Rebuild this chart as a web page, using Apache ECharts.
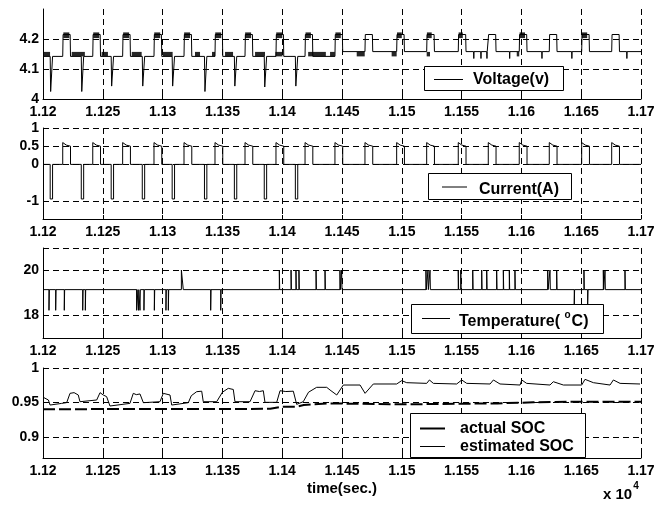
<!DOCTYPE html>
<html><head><meta charset="utf-8">
<script src="https://cdn.jsdelivr.net/npm/echarts@6/dist/echarts.min.js"></script>
<style>html,body{margin:0;padding:0;background:#fff}#c{width:658px;height:507px}</style>
</head><body><div id="c"></div>
<script>
// ---------- axes ----------
const X_MIN = 11200, X_MAX = 11700, X_STEP = 50;
const yRange1 = [4, 4.3],   yTicks1 = [4, 4.1, 4.2],        yGrid1 = [4.1, 4.2];
const yRange2 = [-1.5, 1],  yTicks2 = [-1, 0, 0.5, 1],      yGrid2 = [-1, 0, 0.5, 1];
const yRange3 = [17, 21],   yTicks3 = [18, 20],             yGrid3 = [18, 20, 21];
const yRange4 = [0.87, 1],  yTicks4 = [0.9, 0.95, 1],       yGrid4 = [0.9, 0.95, 1];

// ---------- voltage / current events (seconds) ----------
const dipTimes = [11206, 11232, 11257, 11283, 11308, 11335, 11360, 11385, 11411];
const voltDipValues = [4.025, 4.025, 4.043, 4.043, 4.043, 4.025, 4.043, 4.04, 4.043];
const currentDipValue = -0.95;
const pulseTimes = [11216.5, 11241.6, 11266.6, 11292.8, 11317.9, 11343.8, 11368.9, 11394.8, 11419.1,
  11444.1, 11469.2, 11495.7, 11520.8, 11547.2, 11572.3, 11598.2, 11623.3, 11650.4, 11675.5];
const currentPulseProfile = [[0, 0.6], [1.5, 0.56], [3, 0.53], [6.5, 0.5]];
const voltBaseline = [[11200, 4.142], [11450, 4.158]];
const voltPulseTop = 4.215;
const voltSmallTicks = [11560, 11566, 11571, 11590, 11617, 11642, 11688];
const voltTickValue = 4.135;
const voltNoiseHighBand = [4.203, 4.222];
const voltNoiseHigh = [[11217, 11222], [11242, 11247], [11267, 11272], [11293, 11298], [11318, 11323],
  [11344, 11349], [11369, 11374], [11395, 11400], [11419.5, 11424], [11444.5, 11449],
  [11496, 11500], [11521, 11525], [11547.5, 11551], [11598.5, 11603], [11650.5, 11655]];
const voltNoiseLowBand = [4.142, 4.157];
const voltNoiseLow = [[11200, 11205.9], [11224, 11235], [11249, 11254.3], [11274.2, 11282.5],
  [11300.3, 11308.4], [11327.1, 11331.3], [11341.3, 11343.8], [11352.2, 11358.9], [11377.3, 11385.6],
  [11394.3, 11400.2], [11421.7, 11436.5], [11440, 11444], [11462.3, 11469], [11491.5, 11495.7],
  [11520.8, 11523.6], [11596.1, 11598.2]];

// ---------- temperature ----------
const tempBase = 19.15;
const tempSpikes = [ // [time, value, duration]
  [11205.0, 18.23, 0.3], [11210.6, 18.23, 0.3], [11217.8, 18.23, 0.3], [11233.2, 18.23, 0.3], [11235.4, 18.23, 0.3],
  [11278.3, 18.23, 0.3], [11279.8, 18.23, 0.3], [11281.1, 18.23, 0.3], [11284.4, 18.23, 0.3], [11293.1, 18.23, 0.3],
  [11302.8, 18.23, 0.3], [11304.8, 18.23, 0.3], [11315.7, 20.02, 1.6], [11340.2, 18.23, 0.3], [11348.6, 18.23, 0.3],
  [11397.6, 20.02, 0.3], [11407.4, 20.02, 0.3], [11411.5, 20.02, 0.3], [11414.0, 20.02, 0.3], [11428.3, 20.02, 0.3],
  [11435.8, 20.02, 0.3], [11448.3, 20.02, 0.3], [11449.7, 20.02, 0.3], [11520.2, 20.02, 0.3], [11521.9, 20.02, 0.3],
  [11523.6, 20.02, 0.3], [11547.2, 20.02, 0.3], [11549.3, 20.02, 0.3], [11559.3, 20.02, 0.3], [11566.8, 20.02, 0.3],
  [11571.0, 20.02, 0.3], [11579.3, 20.02, 0.3], [11584.9, 20.02, 0.3], [11589.9, 20.02, 0.3], [11594.6, 20.02, 0.3],
  [11622.0, 20.02, 0.3], [11623.9, 20.02, 0.3], [11629.5, 20.02, 0.3], [11644.2, 18.5, 0.3], [11652.3, 20.02, 0.3],
  [11655.4, 18.5, 0.3], [11668.5, 20.02, 0.3], [11669.9, 20.02, 0.3], [11686.6, 20.02, 0.3]];

// ---------- SOC ----------
const actualSOC = [[11200, 0.9405], [11390, 0.9410], [11400, 0.9441], [11412, 0.9441], [11418, 0.9465],
  [11440, 0.9489], [11455, 0.9485], [11500, 0.9475], [11530, 0.9480], [11580, 0.9489], [11610, 0.9504],
  [11640, 0.9513], [11700, 0.9513]];
const estimatedSOC = [[11200.3, 0.9576], [11204.5, 0.9538], [11205.9, 0.9465], [11215.6, 0.9489], [11219.8, 0.9500],
  [11222.6, 0.9634], [11224, 0.9620], [11226, 0.9644], [11229.5, 0.9610], [11230.9, 0.9513], [11244.9, 0.9538],
  [11247.7, 0.9644], [11250.4, 0.9610], [11253.2, 0.9586], [11256.0, 0.9451], [11272.7, 0.9489], [11275.5, 0.9634],
  [11278, 0.9615], [11281.1, 0.9625], [11283.9, 0.9499], [11297.8, 0.9513], [11300.6, 0.9634], [11306.2, 0.9610],
  [11307.6, 0.9465], [11321.5, 0.9499], [11324, 0.9600], [11328.5, 0.9658], [11330, 0.9630], [11332.7, 0.9665],
  [11334.0, 0.9513], [11345.2, 0.9513], [11350, 0.9650], [11354.9, 0.9706], [11359.1, 0.9690], [11360.5, 0.9513],
  [11373.1, 0.9513], [11377.3, 0.9672], [11381, 0.9660], [11384.2, 0.9672], [11385.6, 0.9504], [11395.4, 0.9504],
  [11398.2, 0.9672], [11403, 0.9660], [11409.3, 0.9665], [11412.1, 0.9475], [11417.6, 0.9513], [11422, 0.9650],
  [11428.8, 0.9721], [11437.2, 0.9721], [11440.0, 0.9682], [11445.6, 0.9610], [11451.1, 0.9754], [11465.1, 0.9754],
  [11469.3, 0.9634], [11476.2, 0.9769], [11495.7, 0.9769], [11499.9, 0.9817], [11504.1, 0.9788], [11520.8, 0.9778],
  [11523.1, 0.9827], [11526.4, 0.9778], [11545.9, 0.9769], [11550.1, 0.9827], [11554.3, 0.9778], [11573.8, 0.9769],
  [11576.6, 0.9827], [11582.1, 0.9769], [11598.9, 0.9754], [11600.3, 0.9827], [11604.4, 0.9778], [11623.9, 0.9754],
  [11626.7, 0.9802], [11635.1, 0.9754], [11650.4, 0.9754], [11653.2, 0.9836], [11660.2, 0.9788], [11674.1, 0.9754],
  [11676.9, 0.9827], [11682.5, 0.9778], [11699.2, 0.9769]];

// ---------- build series ----------
function baseAt(t) { let v = voltBaseline[0][1]; for (const [bt, bv] of voltBaseline) if (t >= bt) v = bv; return v; }
const voltEvents = [];
dipTimes.forEach((t, i) => voltEvents.push({ t, kind: 'dip', v: voltDipValues[i] }));
pulseTimes.forEach(t => voltEvents.push({ t, kind: 'pulse' }));
voltSmallTicks.forEach(t => voltEvents.push({ t, kind: 'tick' }));
voltEvents.sort((a, b) => a.t - b.t);
const voltData = [[X_MIN, baseAt(X_MIN)]];
voltEvents.forEach(e => {
  const b = baseAt(e.t);
  if (e.kind === 'dip') voltData.push([e.t, b], [e.t + 0.4, e.v], [e.t + 1.6, e.v], [e.t + 2, baseAt(e.t + 2)]);
  else if (e.kind === 'pulse') voltData.push([e.t, b], [e.t + 0.3, voltPulseTop], [e.t + 6.2, voltPulseTop], [e.t + 6.5, baseAt(e.t + 6.5)]);
  else voltData.push([e.t, b], [e.t + 0.2, voltTickValue], [e.t + 0.4, b]);
});
voltData.push([X_MAX, baseAt(X_MAX)]);

const curEvents = [];
dipTimes.forEach(t => curEvents.push({ t, kind: 'dip' }));
pulseTimes.forEach(t => curEvents.push({ t, kind: 'pulse' }));
curEvents.sort((a, b) => a.t - b.t);
const curData = [[X_MIN, 0]];
curEvents.forEach(e => {
  if (e.kind === 'dip') curData.push([e.t, 0], [e.t, currentDipValue], [e.t + 2, currentDipValue], [e.t + 2, 0]);
  else {
    curData.push([e.t, 0]);
    currentPulseProfile.forEach(([dt, v]) => curData.push([e.t + dt, v]));
    curData.push([e.t + currentPulseProfile[currentPulseProfile.length - 1][0], 0]);
  }
});
curData.push([X_MAX, 0]);

const tempData = [[X_MIN, tempBase]];
tempSpikes.forEach(([t, v, w]) => tempData.push([t, tempBase], [t, v], [t + w, v], [t + w, tempBase]));
tempData.push([X_MAX, tempBase]);

// ---------- chart ----------
const FONT = '"Liberation Sans", Arial, sans-serif';
const tops = [9, 128, 248, 368], heights = [90, 91, 90, 90];
const yRanges = [yRange1, yRange2, yRange3, yRange4];
const yTicks = [yTicks1, yTicks2, yTicks3, yTicks4];
const yGrids = [yGrid1, yGrid2, yGrid3, yGrid4];
const dash = [6, 4];

const grids = tops.map((t, i) => ({ left: 43, right: 17, top: t, height: heights[i] }));
const xAxes = tops.map((t, i) => ({
  type: 'value', gridIndex: i, min: X_MIN, max: X_MAX, interval: X_STEP,
  axisLine: { onZero: false, lineStyle: { color: '#000', width: 1 } },
  axisTick: { inside: true, length: 4, lineStyle: { color: '#000' } },
  axisLabel: { color: '#000', fontSize: 14, fontWeight: 'bold', fontFamily: FONT, margin: 6,
    formatter: v => String(parseFloat((v / 10000).toFixed(4))) },
  splitLine: { show: true, lineStyle: { color: '#000', type: dash, width: 1 } },
  name: i === 3 ? 'time(sec.)' : '', nameLocation: 'middle', nameGap: 23,
  nameTextStyle: { color: '#000', fontSize: 15, fontWeight: 'bold', fontFamily: FONT }
}));
const yAxes = tops.map((t, i) => ({
  type: 'value', gridIndex: i, min: yRanges[i][0], max: yRanges[i][1],
  axisLine: { show: true, onZero: false, lineStyle: { color: '#000', width: 1 } },
  axisTick: { show: true, inside: true, length: 4, customValues: yTicks[i], lineStyle: { color: '#000' } },
  axisLabel: { color: '#000', fontSize: 14, fontWeight: 'bold', fontFamily: FONT, margin: 4, customValues: yTicks[i] },
  splitLine: { show: false }
}));

function gridMarkLine(vals) {
  return { silent: true, symbol: 'none', animation: false, label: { show: false },
    lineStyle: { color: '#000', type: dash, width: 1 }, emphasis: { disabled: true },
    data: vals.map(v => ({ yAxis: v })) };
}
function bands(list, band) {
  return list.map(([a, b]) => [{ xAxis: a, yAxis: band[0] }, { xAxis: b, yAxis: band[1] }]);
}
const lineBase = { type: 'line', showSymbol: false, symbol: 'none', animation: false, silent: true };

const series = [
  Object.assign({}, lineBase, { name: 'Voltage(v)', xAxisIndex: 0, yAxisIndex: 0, data: voltData,
    lineStyle: { color: '#000', width: 1 }, markLine: gridMarkLine(yGrid1),
    markArea: { silent: true, itemStyle: { color: 'rgba(0,0,0,0.85)' }, data: bands(voltNoiseHigh, voltNoiseHighBand).concat(bands(voltNoiseLow, voltNoiseLowBand)) } }),
  Object.assign({}, lineBase, { name: 'Current(A)', xAxisIndex: 1, yAxisIndex: 1, data: curData,
    lineStyle: { color: '#000', width: 1 }, markLine: gridMarkLine(yGrid2) }),
  Object.assign({}, lineBase, { name: 'Temperature', xAxisIndex: 2, yAxisIndex: 2, data: tempData,
    lineStyle: { color: '#000', width: 1 }, markLine: gridMarkLine(yGrid3) }),
  Object.assign({}, lineBase, { name: 'actual SOC', xAxisIndex: 3, yAxisIndex: 3, data: actualSOC,
    lineStyle: { color: '#000', width: 2, type: [12, 4] }, markLine: gridMarkLine(yGrid4) }),
  Object.assign({}, lineBase, { name: 'estimated SOC', xAxisIndex: 3, yAxisIndex: 3, data: estimatedSOC,
    lineStyle: { color: '#000', width: 1 } })
];

// ---------- legend boxes & annotations ----------
const mctx = document.createElement('canvas').getContext('2d');
function textW(s, size) { mctx.font = 'bold ' + size + 'px ' + FONT; return mctx.measureText(s).width; }
const txt = (text, x, y, size) => ({ type: 'text', x, y, silent: true,
  style: { text, fill: '#000', fontSize: size, fontWeight: 'bold', fontFamily: FONT, verticalAlign: 'middle', align: 'left' } });
const box = (x, y, w, h) => ({ type: 'rect', silent: true, shape: { x, y, width: w, height: h },
  style: { fill: '#fff', stroke: '#000', lineWidth: 1 } });
const seg = (x1, x2, y, w) => ({ type: 'line', silent: true, shape: { x1, y1: y, x2, y2: y },
  style: { stroke: '#000', lineWidth: w } });
const tX = 459, tPre = 'Temperature( ';
const oX = tX + textW(tPre, 16);
const cX = oX + textW('o', 10) + 1;
const graphics = [
  box(424.5, 66.5, 139, 24), seg(434, 463, 79.5, 1), txt('Voltage(v)', 473, 79.5, 16),
  box(428.5, 173.5, 143, 26), seg(442, 467, 187, 1), txt('Current(A)', 479, 190, 16),
  box(411.5, 304.5, 192, 29), seg(422, 450, 318.5, 1), txt(tPre, tX, 322, 16),
  txt('o', oX, 315, 10), txt('C)', cX, 322, 16),
  box(410.5, 413.5, 175, 44), seg(420, 445, 428.5, 2), seg(420, 445, 446.5, 1),
  txt('actual SOC', 460, 429, 16), txt('estimated SOC', 460, 446.5, 16),
  txt('x 10', 603, 495, 15), txt('4', 603 + textW('x 10', 15) + 1, 486, 10)
];

const chart = echarts.init(document.getElementById('c'), null, { renderer: 'canvas' });
chart.setOption({
  backgroundColor: '#fff', animation: false,
  grid: grids, xAxis: xAxes, yAxis: yAxes, series,
  graphic: { elements: graphics.map(g => Object.assign({ z: 100 }, g)) }
});
</script></body></html>
